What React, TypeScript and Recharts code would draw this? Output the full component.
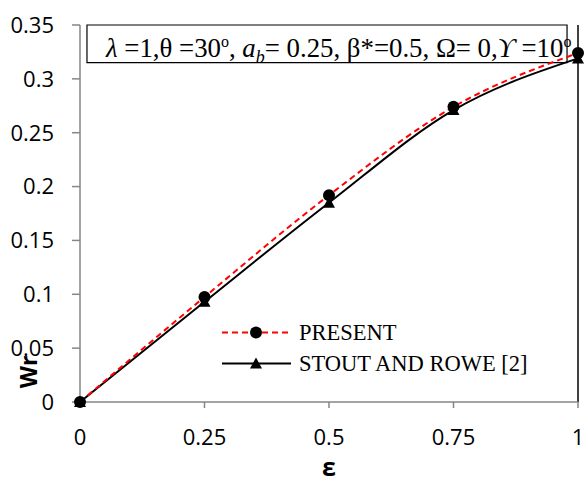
import React from 'react';
import {
  LineChart,
  Line,
  XAxis,
  YAxis,
  ReferenceLine,
  ReferenceArea,
} from 'recharts';

const epsilon = [0, 0.25, 0.5, 0.75, 1];
const present = [0, 0.0975, 0.192, 0.274, 0.324];
const stoutRowe = [0, 0.093, 0.185, 0.271, 0.319];

const xTicks = [0, 0.25, 0.5, 0.75, 1];
const yTicks = [0, 0.05, 0.1, 0.15, 0.2, 0.25, 0.3, 0.35];

const data = epsilon.map((e, i) => ({
  eps: e,
  present: present[i],
  stout: stoutRowe[i],
}));

const tickFont = { fontFamily: 'Open Sans', fontSize: 22, fill: '#000' };
const serif = 'Liberation Serif';

const Triangle = (props: any) => {
  const { cx, cy, index } = props;
  if (cx == null || cy == null) return null;
  return (
    <path
      key={`tri-${index}`}
      d={`M${cx},${cy - 6} L${cx + 6},${cy + 5} L${cx - 6},${cy + 5} Z`}
      fill="#000"
    />
  );
};

const Circle = (props: any) => {
  const { cx, cy, index } = props;
  if (cx == null || cy == null) return null;
  return <circle key={`c-${index}`} cx={cx} cy={cy} r={6} fill="#000" />;
};

// legend sits over the plot, so it is a plain overlay rather than <Legend>
const LegendBox = () => (
  <div
    style={{
      position: 'absolute',
      left: 222,
      top: 317,
      fontFamily: serif,
      fontSize: 22.5,
      color: '#000',
      lineHeight: '31px',
    }}
  >
    <div style={{ display: 'flex', alignItems: 'center', height: 31 }}>
      <svg width={77} height={31}>
        <line x1={0} y1={15.5} x2={69} y2={15.5} stroke="#ff0000" strokeWidth={2} strokeDasharray="6 4" />
        <circle cx={34} cy={15.5} r={6} fill="#000" />
      </svg>
      <span>PRESENT</span>
    </div>
    <div style={{ display: 'flex', alignItems: 'center', height: 31 }}>
      <svg width={77} height={31}>
        <line x1={0} y1={15.5} x2={69} y2={15.5} stroke="#000" strokeWidth={2} />
        <path d="M34,9.5 L40,20.5 L28,20.5 Z" fill="#000" />
      </svg>
      <span>STOUT AND ROWE [2]</span>
    </div>
  </div>
);

const Annotation = (props: any) => {
  const { viewBox } = props;
  const x = viewBox.x + 19;
  const y = viewBox.y + 32;
  return (
    <text x={x} y={y} fontFamily={serif} fontSize={26.8} fill="#000">
      <tspan fontStyle="italic">λ</tspan>
      <tspan> =1,θ =30</tspan>
      <tspan fontSize={16} dy={-10}>o</tspan>
      <tspan dy={10}>, </tspan>
      <tspan fontStyle="italic">a</tspan>
      <tspan fontStyle="italic" fontSize={18} dy={6}>b</tspan>
      <tspan dy={-6}>= 0.25, β*=0.5, Ω= 0,</tspan>
      <tspan fontStyle="italic">ϒ</tspan>
      <tspan> =10</tspan>
      <tspan fontSize={16} dy={-10}>o</tspan>
    </text>
  );
};

const YLabel = (props: any) => {
  const { viewBox } = props;
  const x = viewBox.x + 37;
  const y = viewBox.y + viewBox.height - 30;
  return (
    <text
      x={x}
      y={y}
      transform={`rotate(-90 ${x} ${y})`}
      textAnchor="middle"
      fontFamily="Open Sans"
      fontWeight="bold"
      fontSize={23}
      fill="#000"
    >
      Wr
    </text>
  );
};

export default function App() {
  return (
    <div style={{ position: 'absolute', left: 0, top: 0, width: 586, height: 484, background: '#fff' }}>
      <LineChart
        width={586}
        height={484}
        data={data}
        margin={{ top: 25, right: 8, left: 0, bottom: 22 }}
      >
        <XAxis
          dataKey="eps"
          type="number"
          domain={[0, 1]}
          ticks={xTicks}
          tickFormatter={(v: number) => String(v)}
          tick={tickFont}
          stroke="#868686"
          strokeWidth={1.5}
          tickSize={6}
          tickMargin={21}
          height={60}
          label={{
            value: 'ε',
            position: 'insideBottom',
            offset: -14,
            style: { fontFamily: 'Open Sans', fontWeight: 'bold', fontSize: 25, fill: '#000' },
          }}
        />
        <YAxis
          type="number"
          domain={[0, 0.35]}
          ticks={yTicks}
          tickFormatter={(v: number) => String(v)}
          tick={tickFont}
          stroke="#868686"
          strokeWidth={1.5}
          tickSize={8}
          tickMargin={18}
          width={80}
          label={<YLabel />}
        />
        <ReferenceArea
          x1={0.014}
          x2={0.978}
          y1={0.315}
          y2={0.35}
          fill="#fff"
          fillOpacity={1}
          stroke="#000"
          strokeWidth={1.2}
          label={<Annotation />}
        />
        <ReferenceLine x={1} stroke="#000" strokeWidth={1.5} />
        <Line
          dataKey="stout"
          type="monotone"
          stroke="#000"
          strokeWidth={2}
          dot={<Triangle />}
          isAnimationActive={false}
        />
        <Line
          dataKey="present"
          type="monotone"
          stroke="#ff0000"
          strokeWidth={2}
          strokeDasharray="6 4"
          dot={<Circle />}
          isAnimationActive={false}
        />
      </LineChart>
      <LegendBox />
    </div>
  );
}
